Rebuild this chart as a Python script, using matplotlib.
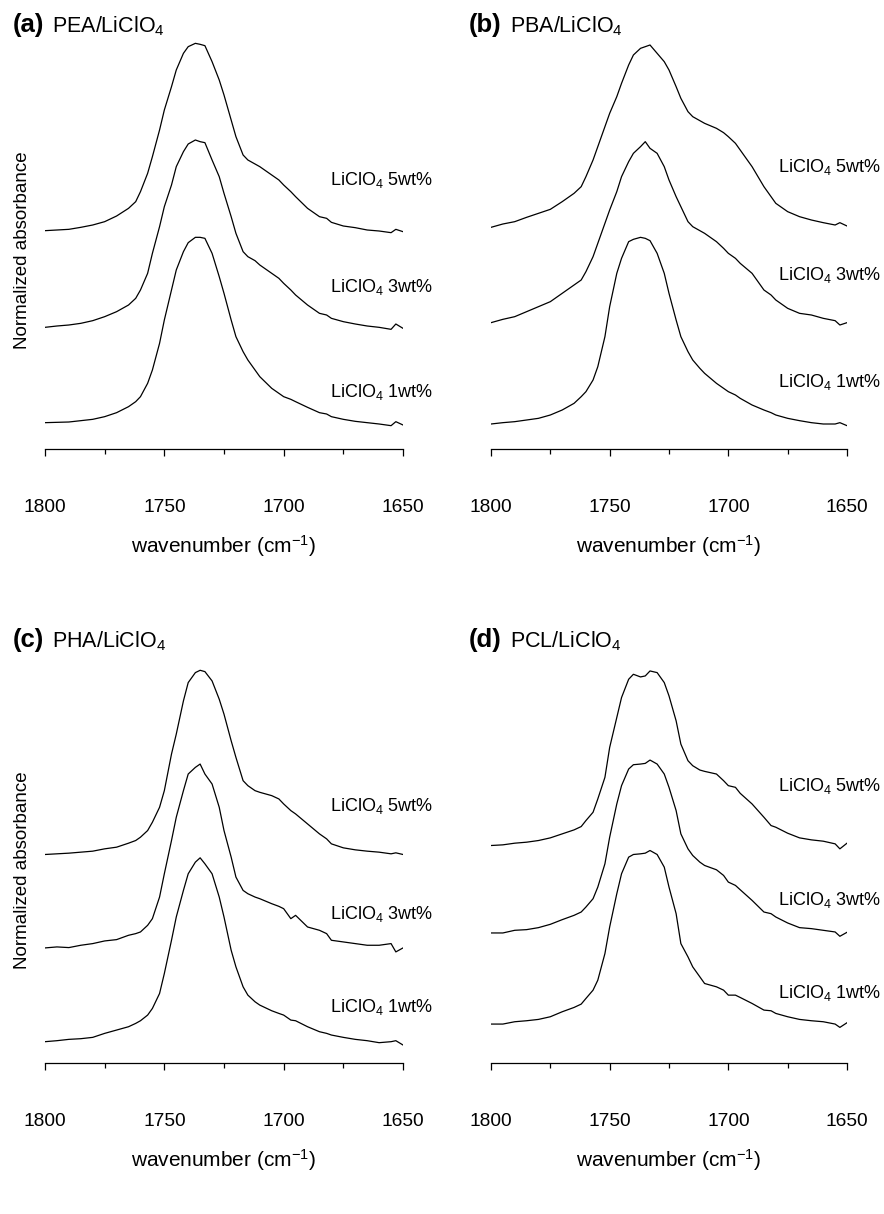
import matplotlib
matplotlib.use('Agg')
import matplotlib.pyplot as plt
from matplotlib.ticker import MultipleLocator

plt.rcParams['font.family'] = ['Liberation Sans', 'DejaVu Sans']
plt.rcParams['mathtext.fontset'] = 'custom'
plt.rcParams['mathtext.rm'] = 'Liberation Sans'
plt.rcParams['mathtext.it'] = 'Liberation Sans:italic'
plt.rcParams['mathtext.bf'] = 'Liberation Sans:bold'

# wavenumber grid (cm-1) shared by all spectra
wavenumber = [1800, 1795, 1790, 1785, 1780, 1775, 1770, 1765, 1762, 1760,
              1757, 1755, 1752, 1750, 1747, 1745, 1742, 1740, 1737, 1735,
              1733, 1730, 1727, 1725, 1722, 1720, 1717, 1715, 1712, 1710,
              1705, 1702, 1700, 1697, 1695, 1690, 1685, 1682, 1680, 1675,
              1670, 1665, 1660, 1655, 1653, 1650]

series_labels = ['LiClO$_4$ 5wt%', 'LiClO$_4$ 3wt%', 'LiClO$_4$ 1wt%']
panel_tags = ['(a)', '(b)', '(c)', '(d)']
panel_names = ['PEA/LiClO$_4$', 'PBA/LiClO$_4$', 'PHA/LiClO$_4$', 'PCL/LiClO$_4$']

# normalized absorbance, already stacked with offsets (a.u.)
pea_5 = [6.55, 6.57, 6.59, 6.65, 6.72, 6.82, 6.99, 7.22, 7.42, 7.72,
         8.27, 8.77, 9.57, 10.17, 10.87, 11.37, 11.87, 12.07, 12.17, 12.14,
         12.10, 11.62, 11.07, 10.62, 9.87, 9.37, 8.82, 8.67, 8.55, 8.47,
         8.22, 8.07, 7.92, 7.72, 7.57, 7.22, 6.97, 6.92, 6.80, 6.69,
         6.64, 6.57, 6.54, 6.49, 6.59, 6.52]
pea_3 = [3.65, 3.69, 3.72, 3.77, 3.85, 3.97, 4.12, 4.32, 4.52, 4.77,
         5.27, 5.87, 6.67, 7.27, 7.92, 8.47, 8.92, 9.15, 9.27, 9.22,
         9.19, 8.67, 8.17, 7.67, 6.97, 6.47, 5.92, 5.77, 5.65, 5.52,
         5.27, 5.12, 4.97, 4.77, 4.62, 4.32, 4.07, 4.02, 3.92, 3.82,
         3.75, 3.69, 3.65, 3.59, 3.75, 3.62]
pea_1 = [0.79, 0.80, 0.81, 0.85, 0.89, 0.97, 1.09, 1.27, 1.42, 1.57,
         1.97, 2.37, 3.17, 3.87, 4.77, 5.37, 5.92, 6.19, 6.35, 6.35,
         6.32, 5.87, 5.17, 4.67, 3.87, 3.37, 2.92, 2.67, 2.37, 2.17,
         1.82, 1.67, 1.57, 1.49, 1.42, 1.25, 1.09, 1.05, 0.97, 0.89,
         0.83, 0.79, 0.75, 0.70, 0.82, 0.72]

pba_5 = [6.65, 6.75, 6.82, 6.95, 7.07, 7.19, 7.42, 7.67, 7.87, 8.17,
         8.67, 9.07, 9.67, 10.07, 10.57, 10.97, 11.52, 11.82, 12.02, 12.07,
         12.12, 11.87, 11.62, 11.37, 10.87, 10.52, 10.12, 9.97, 9.85, 9.77,
         9.62, 9.49, 9.37, 9.17, 8.97, 8.47, 7.87, 7.57, 7.37, 7.12,
         6.97, 6.87, 6.79, 6.72, 6.79, 6.69]
pba_3 = [3.79, 3.89, 3.97, 4.12, 4.27, 4.42, 4.67, 4.92, 5.07, 5.32,
         5.77, 6.17, 6.77, 7.17, 7.72, 8.17, 8.62, 8.87, 9.07, 9.22,
         9.02, 8.87, 8.47, 8.07, 7.57, 7.27, 6.82, 6.67, 6.55, 6.47,
         6.22, 6.02, 5.87, 5.72, 5.57, 5.27, 4.77, 4.62, 4.47, 4.22,
         4.07, 4.02, 3.92, 3.85, 3.72, 3.79]
pba_1 = [0.75, 0.79, 0.82, 0.87, 0.92, 1.02, 1.17, 1.37, 1.57, 1.72,
         2.07, 2.47, 3.37, 4.27, 5.27, 5.72, 6.22, 6.29, 6.35, 6.32,
         6.25, 5.87, 5.27, 4.67, 3.87, 3.37, 2.92, 2.67, 2.42, 2.27,
         1.97, 1.82, 1.72, 1.62, 1.52, 1.32, 1.17, 1.09, 1.02, 0.92,
         0.85, 0.79, 0.75, 0.75, 0.79, 0.70]

pha_5 = [6.28, 6.30, 6.32, 6.35, 6.38, 6.45, 6.50, 6.62, 6.70, 6.80,
         7.00, 7.25, 7.70, 8.20, 9.30, 9.90, 10.90, 11.45, 11.75, 11.82,
         11.78, 11.50, 10.95, 10.50, 9.70, 9.20, 8.50, 8.35, 8.20, 8.15,
         8.05, 7.95, 7.80, 7.60, 7.50, 7.20, 6.90, 6.75, 6.60, 6.48,
         6.42, 6.38, 6.35, 6.30, 6.33, 6.28]
pha_3 = [3.47, 3.50, 3.48, 3.55, 3.60, 3.68, 3.72, 3.85, 3.90, 3.95,
         4.15, 4.35, 5.00, 5.70, 6.70, 7.40, 8.20, 8.70, 8.90, 9.00,
         8.70, 8.40, 7.70, 7.00, 6.20, 5.60, 5.20, 5.10, 5.00, 4.95,
         4.80, 4.72, 4.65, 4.35, 4.45, 4.10, 4.00, 3.90, 3.70, 3.65,
         3.60, 3.55, 3.55, 3.60, 3.35, 3.47]
pha_1 = [0.65, 0.68, 0.72, 0.74, 0.78, 0.90, 1.00, 1.10, 1.20, 1.28,
         1.45, 1.65, 2.10, 2.70, 3.70, 4.40, 5.20, 5.70, 6.05, 6.18,
         6.00, 5.70, 5.00, 4.40, 3.40, 2.90, 2.30, 2.05, 1.85, 1.75,
         1.58, 1.50, 1.45, 1.30, 1.28, 1.10, 0.95, 0.90, 0.85, 0.78,
         0.72, 0.68, 0.62, 0.65, 0.68, 0.55]

pcl_5 = [6.55, 6.57, 6.62, 6.65, 6.70, 6.78, 6.90, 7.02, 7.12, 7.30,
         7.55, 7.95, 8.60, 9.50, 10.40, 11.00, 11.55, 11.70, 11.62, 11.65,
         11.80, 11.75, 11.45, 11.05, 10.30, 9.60, 9.10, 8.95, 8.82, 8.78,
         8.70, 8.50, 8.35, 8.30, 8.12, 7.80, 7.40, 7.15, 7.10, 6.92,
         6.78, 6.72, 6.68, 6.60, 6.45, 6.62]
pcl_3 = [3.92, 3.92, 4.00, 4.02, 4.08, 4.18, 4.32, 4.45, 4.55, 4.70,
         4.95, 5.30, 6.00, 6.80, 7.80, 8.35, 8.85, 8.98, 9.00, 9.02,
         9.12, 9.00, 8.70, 8.30, 7.60, 6.90, 6.45, 6.25, 6.05, 5.95,
         5.82, 5.65, 5.45, 5.35, 5.22, 4.90, 4.55, 4.50, 4.40, 4.22,
         4.08, 4.05, 4.00, 3.95, 3.82, 3.94]
pcl_1 = [1.18, 1.18, 1.25, 1.28, 1.32, 1.40, 1.55, 1.68, 1.78, 1.95,
         2.20, 2.50, 3.30, 4.10, 5.10, 5.70, 6.20, 6.28, 6.30, 6.32,
         6.40, 6.28, 5.90, 5.30, 4.50, 3.60, 3.20, 2.90, 2.60, 2.40,
         2.30, 2.20, 2.05, 2.05, 1.98, 1.80, 1.60, 1.58, 1.50, 1.40,
         1.32, 1.28, 1.25, 1.18, 1.08, 1.22]

spectra = [[pea_5, pea_3, pea_1], [pba_5, pba_3, pba_1],
           [pha_5, pha_3, pha_1], [pcl_5, pcl_3, pcl_1]]

# where each curve label sits (wavenumber, stacked absorbance)
label_x = [1680.5, 1679, 1680.5, 1679]
label_y = [[8.07, 4.87, 1.72], [8.47, 5.22, 2.02],
           [7.75, 4.50, 1.70], [8.35, 4.90, 2.10]]

W, H = 884, 1214
fig = plt.figure(figsize=(W / 100, H / 100), dpi=100)

# axes boxes in pixels: left, right, axis line y, top y
boxes = [(45, 403, 449, 30), (491, 847, 449, 30),
         (45, 403, 1063.3, 651), (491, 847, 1063.3, 651)]
ytops = [12.57, 12.57, 12.4, 12.4]

for i, (l, r, b, t) in enumerate(boxes):
    ax = fig.add_axes([l / W, 1 - b / H, (r - l) / W, (b - t) / H])
    for y, lab, ly in zip(spectra[i], series_labels, label_y[i]):
        ax.plot(wavenumber, y, color='black', lw=0.9)
        ax.text(label_x[i], ly, lab, fontsize=13, va='center', ha='left')
    ax.set_xlim(1800, 1650)
    ax.set_ylim(0, ytops[i])
    for s in ['top', 'right', 'left']:
        ax.spines[s].set_visible(False)
    ax.spines['bottom'].set_linewidth(0.9)
    ax.set_yticks([])
    ax.xaxis.set_major_locator(MultipleLocator(50))
    ax.xaxis.set_minor_locator(MultipleLocator(25))
    ax.tick_params(axis='x', which='major', direction='out', length=5,
                   width=0.9, labelsize=13.8, pad=31)
    ax.tick_params(axis='x', which='minor', direction='out', length=3.5, width=0.9)
    ax.set_xlabel('wavenumber (cm$^{-1}$)', fontsize=15, labelpad=12)

    tx = 13 if i % 2 == 0 else 469
    nx = 52 if i % 2 == 0 else 510
    ty = 32 if i < 2 else 647
    fig.text(tx / W, 1 - ty / H, panel_tags[i], fontsize=18.5, fontweight='bold',
             va='baseline')
    fig.text(nx / W, 1 - ty / H, panel_names[i], fontsize=15.5, va='baseline')

for cy in [250, 870]:
    fig.text(23 / W, 1 - cy / H, 'Normalized absorbance', fontsize=13.5,
             rotation=90, ha='center', va='center')

fig.savefig('out.png', dpi=100)
